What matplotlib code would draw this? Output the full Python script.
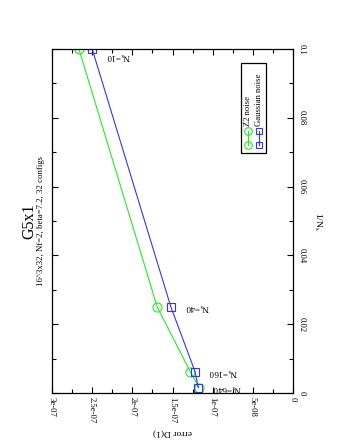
import matplotlib
matplotlib.use("Agg")
import matplotlib.pyplot as plt
from matplotlib.ticker import FixedLocator, MultipleLocator
from matplotlib.patches import Rectangle
from matplotlib.lines import Line2D

plt.rcParams['font.family'] = ['Liberation Serif', 'DejaVu Serif']
plt.rcParams['mathtext.fontset'] = 'custom'
plt.rcParams['mathtext.rm'] = 'Liberation Serif'

# Data
ns_values = [10, 40, 160, 640]
inv_ns = [1.0 / n for n in ns_values]
z2_error = [2.665e-07, 1.69e-07, 1.28e-07, 1.17e-07]
gauss_error = [2.50e-07, 1.52e-07, 1.22e-07, 1.18e-07]
ns_labels = ["N$_\\mathregular{s}$=10", "N$_\\mathregular{s}$=40",
             "N$_\\mathregular{s}$=160", "N$_\\mathregular{s}$=640"]
err_ticks = [3e-07, 2.5e-07, 2e-07, 1.5e-07, 1e-07, 5e-08, 0]
err_tick_labels = ["3e-07", "2.5e-07", "2e-07", "1.5e-07", "1e-07", "5e-08", "0"]
invns_ticks = [0, 0.02, 0.04, 0.06, 0.08, 0.1]
invns_tick_labels = ["0", "0.02", "0.04", "0.06", "0.08", "0.1"]
series_names = ["Z2 noise", "Gaussian noise"]

green = '#22ee22'
blue = '#3333ff'

fig = plt.figure(figsize=(3.45, 4.46), dpi=100)
ax = fig.add_axes([52/345, 1-393/446, 241/345, 344/446])

ax.plot(z2_error, inv_ns, color=green, lw=0.8, marker='o', ms=6.5,
        mfc='none', mec=green, mew=0.8)
ax.plot(gauss_error, inv_ns, color=blue, lw=0.8, marker='s', ms=5.8,
        mfc='none', mec=blue, mew=0.8)

for e, y, lab in zip(gauss_error, inv_ns, ns_labels):
    ax.annotate(lab, (e, y), xytext=(10, -5 if y > 0.05 else 0),
                textcoords='offset points', rotation=180,
                ha='left', va='center', fontsize=6.5)

ax.set_xlim(3e-07, 0)
ax.set_ylim(0, 0.1)
ax.xaxis.set_major_locator(FixedLocator(err_ticks))
ax.set_xticklabels(err_tick_labels)
ax.xaxis.set_minor_locator(MultipleLocator(2.5e-08))
ax.yaxis.set_major_locator(FixedLocator(invns_ticks))
ax.set_yticklabels(invns_tick_labels)
ax.yaxis.set_minor_locator(MultipleLocator(0.01))

ax.tick_params(which='both', direction='in', top=True, bottom=True,
               left=True, right=True, labelleft=False, labelright=True,
               width=0.8, labelsize=6.2)
ax.tick_params(which='major', length=4)
ax.tick_params(which='minor', length=3)
ax.tick_params(axis='x', labelrotation=-90, pad=3)
ax.tick_params(axis='y', labelrotation=-90, pad=3)
for lab in ax.get_yticklabels():
    lab.set_va('center')
for lab in ax.get_xticklabels():
    lab.set_ha('center')
    lab.set_va('top')
for sp in ax.spines.values():
    sp.set_linewidth(0.9)

ax.set_xlabel("error D(1)", rotation=180, fontsize=6.8, labelpad=4)
ax.yaxis.set_label_position('right')
ax.set_ylabel("1/N$_\\mathregular{s}$", rotation=-90, fontsize=6.8,
              labelpad=9, va='center')

# Title and subtitle (rotated)
fig.text(29/345, 1-221/446, "G5x1", rotation=90, ha='center', va='center',
         fontsize=11.5)
fig.text(41/345, 1-221/446, "16^3x32, Nf=2, beta=7.2, 32 configs", rotation=90,
         ha='center', va='center', fontsize=6.3)

# Rotated legend drawn manually
ax.add_patch(Rectangle((0.784, 0.698), 0.104, 0.261, transform=ax.transAxes,
                       fill=False, lw=0.9, ec='black'))
leg_x = [0.813, 0.859]
for lx, col, mk, ms, name in zip(leg_x, [green, blue], ['o', 's'], [5.5, 5.0],
                                  series_names):
    ax.add_line(Line2D([lx, lx], [0.721, 0.762], transform=ax.transAxes,
                       color=col, lw=0.8, marker=mk, ms=ms, mfc='none',
                       mec=col, mew=0.8))
    ax.text(lx, 0.775, name, transform=ax.transAxes, rotation=90,
            ha='center', va='bottom', fontsize=6.2)

fig.savefig("out.png", dpi=100)
